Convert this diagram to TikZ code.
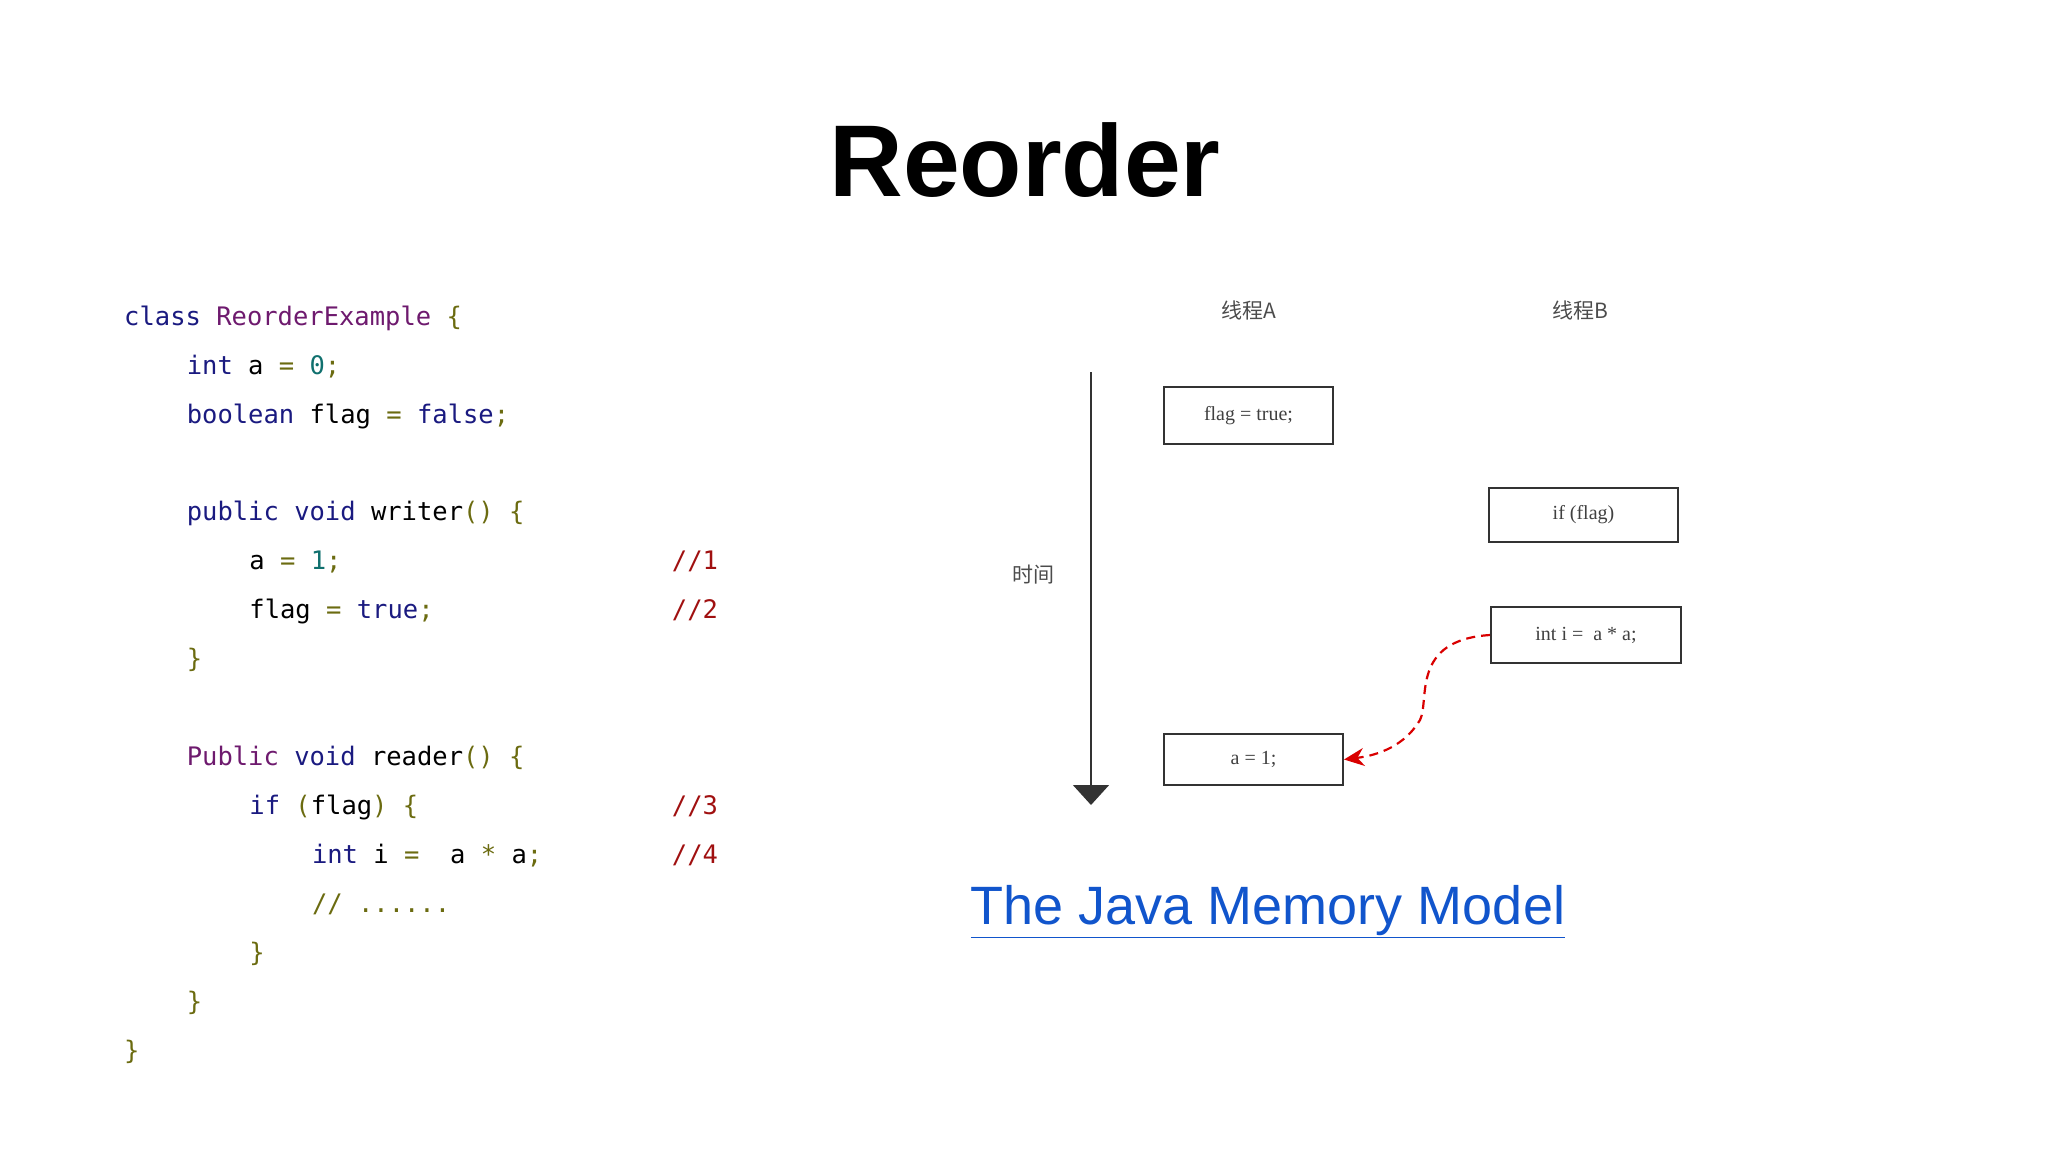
\documentclass[tikz,border=0pt]{standalone}
\usepackage{fontspec}
\setmainfont{Liberation Sans}
\newfontfamily\codef{DejaVu Sans Mono}
\newfontfamily\serf{Liberation Serif}
\newfontfamily\cjk{Noto Sans CJK SC}
\usetikzlibrary{arrows.meta}
\definecolor{kw}{HTML}{1A1A80}
\definecolor{cn}{HTML}{6E1A6E}
\definecolor{br}{HTML}{6B6B10}
\definecolor{nm}{HTML}{10706E}
\definecolor{cm}{HTML}{A01010}
\definecolor{lk}{HTML}{1155CC}
\newcommand{\K}[1]{\textcolor{kw}{#1}}
\newcommand{\C}[1]{\textcolor{cn}{#1}}
\newcommand{\B}[1]{\textcolor{br}{#1}}
\newcommand{\N}[1]{\textcolor{nm}{#1}}
\begin{document}
\begin{tikzpicture}[x=1pt,y=-1pt,
  code/.style={anchor=base west,inner sep=0pt,font=\codef\fontsize{25.5}{30}\selectfont},
  cmt/.style={code,text=cm},
  box/.style={draw=black!80,line width=2pt,inner sep=0pt,font=\serf\fontsize{20}{24}\selectfont,text=black!75},
  lab/.style={font=\cjk\fontsize{21}{24}\selectfont,text=black!70}]
\useasboundingbox (0,0) rectangle (2048,1152);
\node[font=\bfseries\fontsize{102}{110}\selectfont] (title) at (1025,160) {Reorder};
\def\cx#1{124+#1*15.65}
\def\ly#1{(1.306*(249+(#1-1)*37.47))}
\node[code] (l1) at ({\cx0},{\ly1}) {\K{class} \C{ReorderExample} \B{\{}};
\node[code] (l2) at ({\cx4},{\ly2}) {\K{int} a \B{=} \N{0}\B{;}};
\node[code] (l3) at ({\cx4},{\ly3}) {\K{boolean} flag \B{=} \K{false}\B{;}};
\node[code] (l5) at ({\cx4},{\ly5}) {\K{public} \K{void} writer\B{()} \B{\{}};
\node[code] (l6) at ({\cx8},{\ly6}) {a \B{=} \N{1}\B{;}};
\node[cmt] (c1) at ({\cx{35}},{\ly6}) {//1};
\node[code] (l7) at ({\cx8},{\ly7}) {flag \B{=} \K{true}\B{;}};
\node[cmt] (c2) at ({\cx{35}},{\ly7}) {//2};
\node[code] (l8) at ({\cx4},{\ly8}) {\B{\}}};
\node[code] (l10) at ({\cx4},{\ly{10}}) {\C{Public} \K{void} reader\B{()} \B{\{}};
\node[code] (l11) at ({\cx8},{\ly{11}}) {\K{if} \B{(}flag\B{)} \B{\{}};
\node[cmt] (c3) at ({\cx{35}},{\ly{11}}) {//3};
\node[code] (l12) at ({\cx{12}},{\ly{12}}) {\K{int} i \B{=}~~a \B{*} a\B{;}};
\node[cmt] (c4) at ({\cx{35}},{\ly{12}}) {//4};
\node[code] (l13) at ({\cx{12}},{\ly{13}}) {\B{// ......}};
\node[code] (l14) at ({\cx8},{\ly{14}}) {\B{\}}};
\node[code] (l15) at ({\cx4},{\ly{15}}) {\B{\}}};
\node[code] (l16) at ({\cx0},{\ly{16}}) {\B{\}}};
% diagram
\node[lab] (ta) at (1249,310) {线程A};
\node[lab] (tb) at (1580,310) {线程B};
\node[lab] (time) at (1033,575) {时间};
\coordinate (t0) at (1091,372);
\coordinate (t1) at (1091,805);
\draw[line width=1.6pt,black!80,-{Triangle[width=36pt,length=20pt]}] (t0) -- (t1);
\node[box,minimum width=169pt,minimum height=57pt] (b1) at (1248.5,415.5) {flag = true;};
\node[box,minimum width=189pt,minimum height=54pt] (b2) at (1583.5,515) {if (flag)};
\node[box,minimum width=190pt,minimum height=56pt] (b3) at (1586,635) {int i =~~a * a;};
\node[box,minimum width=179pt,minimum height=51pt] (b4) at (1253.5,759.5) {a = 1;};
\draw[red!85!black,line width=2.2pt,dash pattern=on 9pt off 6pt,-{Stealth[length=20pt,width=18pt]}]
  (b3.west) .. controls (1410,640) and (1430,700) .. (1420,720) .. controls (1405,745) and (1380,755) .. (b4.east);
\node[font=\fontsize{54}{60}\selectfont,text=lk] (link) at (1268,912) {\underline{The Java Memory Model}};
\end{tikzpicture}
\end{document}
